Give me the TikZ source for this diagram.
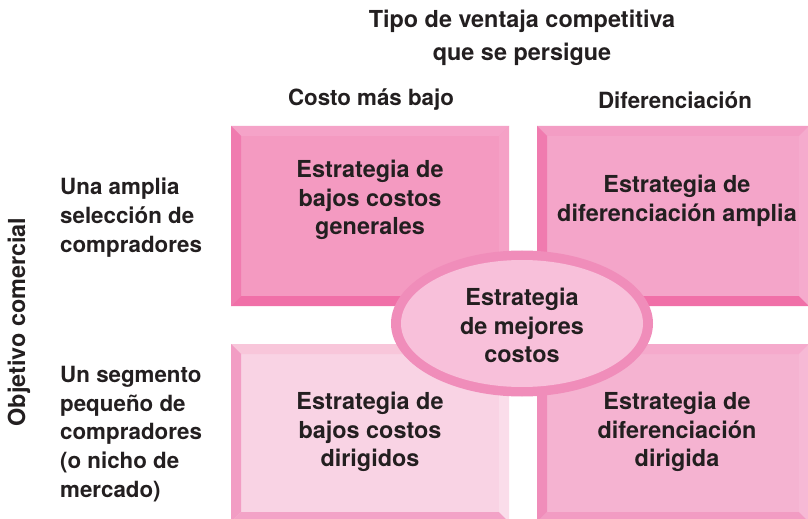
\documentclass[tikz,border=0pt]{standalone}
\usepackage{fontspec}
\setmainfont{TeX Gyre Heros}
\definecolor{txt}{HTML}{231F20}
\definecolor{faceA}{HTML}{F49AC1}
\definecolor{topA}{HTML}{F5A3C8}
\definecolor{leftA}{HTML}{F07BAF}
\definecolor{botA}{HTML}{F070A8}
\definecolor{rightA}{HTML}{F5A1C6}
\definecolor{faceB}{HTML}{F4A5C9}
\definecolor{topB}{HTML}{F39DC4}
\definecolor{leftB}{HTML}{F07BAF}
\definecolor{botB}{HTML}{F070A8}
\definecolor{rightB}{HTML}{F5ABCD}
\definecolor{faceC}{HTML}{F9D3E4}
\definecolor{topC}{HTML}{F8C6DA}
\definecolor{leftC}{HTML}{F29DC4}
\definecolor{botC}{HTML}{F3A3C7}
\definecolor{rightC}{HTML}{FADDEA}
\definecolor{faceD}{HTML}{F5B3D1}
\definecolor{topD}{HTML}{F5AACC}
\definecolor{leftD}{HTML}{F08DBA}
\definecolor{botD}{HTML}{F29CC3}
\definecolor{rightD}{HTML}{F6B9D5}
\definecolor{ringE}{HTML}{F08DBA}
\definecolor{faceE}{HTML}{F8C0DA}
\newcommand{\bevelbox}[9]{%
  % #1 x1, #2 y1, #3 x2, #4 y2, #5 face, #6 top, #7 left, #8 bottom, #9 right
  \fill[#5] (#1,#2) rectangle (#3,#4);
  \fill[#6] (#1,#2) -- (#3,#2) -- (#3-10,#2+10) -- (#1+10,#2+10) -- cycle;
  \fill[#7] (#1,#2) -- (#1+10,#2+10) -- (#1+10,#4-10) -- (#1,#4) -- cycle;
  \fill[#8] (#1,#4) -- (#1+10,#4-10) -- (#3-10,#4-10) -- (#3,#4) -- cycle;
  \fill[#9] (#3,#2) -- (#3,#4) -- (#3-10,#4-10) -- (#3-10,#2+10) -- cycle;
}
\tikzset{
  boxtext/.style={text=txt, font=\fontsize{23.5}{28.5}\selectfont\bfseries, align=center, inner sep=0pt},
  headtext/.style={text=txt, font=\fontsize{22.4}{33}\selectfont\bfseries, align=center, inner sep=0pt},
  titletext/.style={text=txt, font=\fontsize{23.5}{33}\selectfont\bfseries, align=center, inner sep=0pt},
  sidetext/.style={text=txt, font=\fontsize{22.4}{29}\selectfont\bfseries, align=left, inner sep=0pt, anchor=west},
}
\begin{document}
\begin{tikzpicture}[x=1bp,y=-1bp]
\useasboundingbox (0,0) rectangle (808,519);
\fill[white] (0,0) rectangle (808,519);
% boxes
\bevelbox{231}{126}{509}{306}{faceA}{topA}{leftA}{botA}{rightA}
\bevelbox{537}{126}{809}{306}{faceB}{topB}{leftB}{botB}{rightB}
\bevelbox{231}{344}{509}{522}{faceC}{topC}{leftC}{botC}{rightC}
\bevelbox{537}{344}{809}{522}{faceD}{topD}{leftD}{botD}{rightD}
% ellipse
\fill[ringE] (522,323.5) ellipse [x radius=131, y radius=73];
\fill[faceE] (522,323.5) ellipse [x radius=121, y radius=63.5];
% texts
\node[titletext] (title) at (522,38) {Tipo de ventaja competitiva\\que se persigue};
\node[headtext] (h1) at (371,100) {Costo más bajo};
\node[headtext] (h2) at (675,100) {Diferenciación};
\node[boxtext] (b1) at (370,200) {Estrategia de\\bajos costos\\generales};
\node[boxtext] (b2) at (677,201) {Estrategia de\\diferenciación amplia};
\node[boxtext] (b3) at (370,432) {Estrategia de\\bajos costos\\dirigidos};
\node[boxtext] (b4) at (677,432) {Estrategia de\\diferenciación\\dirigida};
\node[boxtext] (e) at (522,325.5) {Estrategia\\de mejores\\costos};
\node[sidetext] (s1) at (60,217.5) {Una amplia\\selección de\\compradores};
\node[sidetext] (s2) at (60,434) {Un segmento\\pequeño de\\compradores\\(o nicho de\\mercado)};
\node[titletext, rotate=90] (side) at (19,322) {Objetivo comercial};
\end{tikzpicture}
\end{document}
